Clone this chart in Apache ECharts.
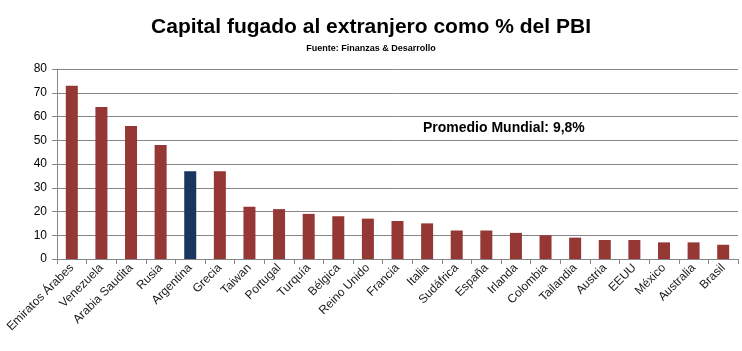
<!DOCTYPE html>
<html>
<head>
    <meta charset="utf-8">
    <title>Capital fugado al extranjero</title>
    <script src="https://cdn.jsdelivr.net/npm/echarts@6.0.0/dist/echarts.min.js"></script>
    <style>
        html, body { margin: 0; padding: 0; background: #fff; }
        #chart { width: 742px; height: 351px; }
    </style>
</head>
<body>
    <div id="chart"></div>
    <script>
        // datos
        const paises = ['Emiratos Árabes', 'Venezuela', 'Arabia Saudita', 'Rusia', 'Argentina', 'Grecia',
            'Taiwan', 'Portugal', 'Turquía', 'Bélgica', 'Reino Unido', 'Francia', 'Italia', 'Sudáfrica',
            'España', 'Irlanda', 'Colombia', 'Tailandia', 'Austria', 'EEUU', 'México', 'Australia', 'Brasil'];
        const valores = [73, 64, 56, 48, 37, 37, 22, 21, 19, 18, 17, 16, 15, 12, 12, 11, 10, 9, 8, 8, 7, 7, 6];
        const destacado = 'Argentina';
        const nota = 'Promedio Mundial: 9,8%';

        const chart = echarts.init(document.getElementById('chart'), null, { renderer: 'canvas' });

        const fuente = 'Liberation Sans, DejaVu Sans, sans-serif';

        chart.setOption({
            animation: false,
            backgroundColor: '#fff',
            title: {
                text: 'Capital fugado al extranjero como % del PBI',
                subtext: 'Fuente: Finanzas & Desarrollo',
                left: 'center',
                top: 12,
                itemGap: 6,
                textStyle: { fontFamily: fuente, fontSize: 21, fontWeight: 'bold', color: '#000' },
                subtextStyle: { fontFamily: fuente, fontSize: 9, fontWeight: 'bold', color: '#000' }
            },
            grid: { left: 57, right: 4, top: 69, bottom: 92 },
            xAxis: {
                type: 'category',
                data: paises,
                boundaryGap: true,
                axisLine: { lineStyle: { color: '#878787' } },
                axisTick: { show: true, length: 5, lineStyle: { color: '#878787' } },
                axisLabel: {
                    interval: 0,
                    rotate: 45,
                    fontFamily: fuente,
                    fontSize: 12,
                    color: '#1a1a1a',
                    margin: 7
                }
            },
            yAxis: {
                type: 'value',
                min: 0,
                max: 80,
                interval: 10,
                axisLine: { show: true, lineStyle: { color: '#878787' } },
                axisTick: { show: true, length: 5, lineStyle: { color: '#878787' } },
                axisLabel: { fontFamily: fuente, fontSize: 12, color: '#000', margin: 10 },
                splitLine: { lineStyle: { color: '#878787', width: 1 } }
            },
            series: [{
                type: 'bar',
                barWidth: 12,
                data: valores.map((v, i) => ({
                    value: v,
                    itemStyle: { color: paises[i] === destacado ? '#17375E' : '#953735' }
                }))
            }],
            graphic: [{
                type: 'text',
                left: 423,
                top: 121,
                style: {
                    text: nota,
                    fontFamily: fuente,
                    fontSize: 14,
                    fontWeight: 'bold',
                    fill: '#000'
                }
            }]
        });
    </script>
</body>
</html>
